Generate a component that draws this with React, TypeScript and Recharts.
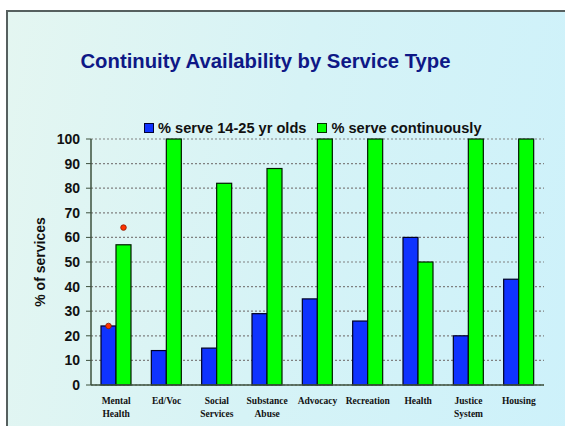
import React from 'react';
import {
  BarChart, Bar, XAxis, YAxis, CartesianGrid,
} from 'recharts';

const categories = [
  'Mental\nHealth', 'Ed/Voc', 'Social\nServices', 'Substance\nAbuse', 'Advocacy',
  'Recreation', 'Health', 'Justice\nSystem', 'Housing',
];
const serveYouth = [24, 14, 15, 29, 35, 26, 60, 20, 43];
const serveContinuous = [57, 100, 82, 88, 100, 100, 50, 100, 100];
// the two little red markers over Mental Health
const markYouth = [24, null, null, null, null, null, null, null, null];
const markContinuous = [64, null, null, null, null, null, null, null, null];
const yTicks = [0, 10, 20, 30, 40, 50, 60, 70, 80, 90, 100];
const edgeTicks = [0, 1, 2, 3, 4, 5, 6, 7, 8, 9];

const data = categories.map((name, i) => ({
  name,
  youth: serveYouth[i],
  cont: serveContinuous[i],
  markYouth: markYouth[i],
  markCont: markContinuous[i],
}));

const BLUE = '#0f33ff';
const GREEN = '#00ff00';
const AXIS = '#3d503d';

function makeShape(valueKey: string, markKey: string, fill: string, stroke: string) {
  return (props: any) => {
    const { x, y, width, height, payload } = props;
    const v = payload[valueKey];
    const m = payload[markKey];
    const base = y + height;
    const dotY = m != null && v ? base - (height * m) / v : null;
    return (
      <g>
        <rect x={x} y={y} width={width} height={height} fill={fill} stroke={stroke} strokeWidth={1.2} />
        {dotY != null && (
          <circle cx={x + width / 2} cy={dotY} r={2.8} fill="#ff3300" stroke="#8a1a00" strokeWidth={0.8} />
        )}
      </g>
    );
  };
}

function CategoryTick({ x, y, payload }: any) {
  const lines = String(payload.value).split('\n');
  return (
    <text
      x={x}
      y={y}
      textAnchor="middle"
      fontFamily="'Liberation Serif', 'Times New Roman', serif"
      fontWeight="bold"
      fontSize={9.5}
      fill="#111"
    >
      {lines.map((l, i) => (
        <tspan key={i} x={x} dy={i === 0 ? 11 : 13}>{l}</tspan>
      ))}
    </text>
  );
}

function YLabel() {
  return (
    <text
      x={45}
      y={262}
      transform="rotate(-90 45 262)"
      textAnchor="middle"
      fontSize={14}
      fontWeight="bold"
      fill="#111"
    >
      % of services
    </text>
  );
}

export default function App() {
  return (
    <div style={{
      position: 'absolute', left: 0, top: 0, width: 565, height: 426,
      background: '#fff', overflow: 'hidden', fontFamily: "'Liberation Sans', Arial, sans-serif",
    }}
    >
      <div style={{
        position: 'absolute', left: 6, top: 10, width: 600, height: 460,
        borderLeft: '2px solid #56605f', borderTop: '2px solid #56605f',
        background: 'linear-gradient(100deg, #e4f6f1 0%, #d6f3f6 45%, #ccf1fb 100%)',
      }}
      />
      <div style={{
        position: 'absolute', left: 0, width: 531, top: 50, textAlign: 'center',
        fontSize: 20.3, fontWeight: 'bold', color: '#0e1886',
      }}
      >
        Continuity Availability by Service Type
      </div>
      <div style={{
        position: 'absolute', left: 144, top: 120, display: 'flex', alignItems: 'center',
        fontSize: 14.6, fontWeight: 'bold', color: '#111', whiteSpace: 'nowrap',
      }}
      >
        <span style={{ width: 8, height: 8, background: BLUE, border: '1px solid #000033', marginRight: 4 }} />
        <span style={{ marginRight: 11 }}>% serve 14-25 yr olds</span>
        <span style={{ width: 8, height: 8, background: GREEN, border: '1px solid #003300', marginRight: 4 }} />
        <span>% serve continuously</span>
      </div>
      <div style={{ position: 'absolute', left: 0, top: 0 }}>
        <BarChart
          width={565}
          height={426}
          data={data}
          margin={{ top: 139, right: 21, bottom: 6, left: 50 }}
          barGap={0}
          barSize={15}
        >
          <CartesianGrid vertical={false} stroke="#808080" strokeDasharray="2 2" strokeWidth={1.2} />
          <XAxis
            xAxisId="edge"
            type="number"
            domain={[0, 9]}
            ticks={edgeTicks}
            allowDataOverflow
            height={0}
            axisLine={false}
            tick={false}
            tickSize={3}
            tickLine={{ stroke: AXIS, strokeWidth: 1.2 }}
          />
          <XAxis
            dataKey="name"
            height={35}
            interval={0}
            tick={<CategoryTick />}
            tickLine={false}
            axisLine={{ stroke: AXIS, strokeWidth: 1.5 }}
          />
          <YAxis
            width={41}
            domain={[0, 100]}
            ticks={yTicks}
            interval={0}
            tickSize={5}
            tickMargin={6}
            tick={{ fontSize: 14, fontWeight: 'bold', fill: '#111' }}
            tickLine={{ stroke: AXIS }}
            axisLine={{ stroke: AXIS, strokeWidth: 1.5 }}
          />
          <Bar
            dataKey="youth"
            fill={BLUE}
            isAnimationActive={false}
            shape={makeShape('youth', 'markYouth', BLUE, '#000022')}
          />
          <Bar
            dataKey="cont"
            fill={GREEN}
            isAnimationActive={false}
            shape={makeShape('cont', 'markCont', GREEN, '#001a00')}
          />
          <YLabel />
        </BarChart>
      </div>
    </div>
  );
}
